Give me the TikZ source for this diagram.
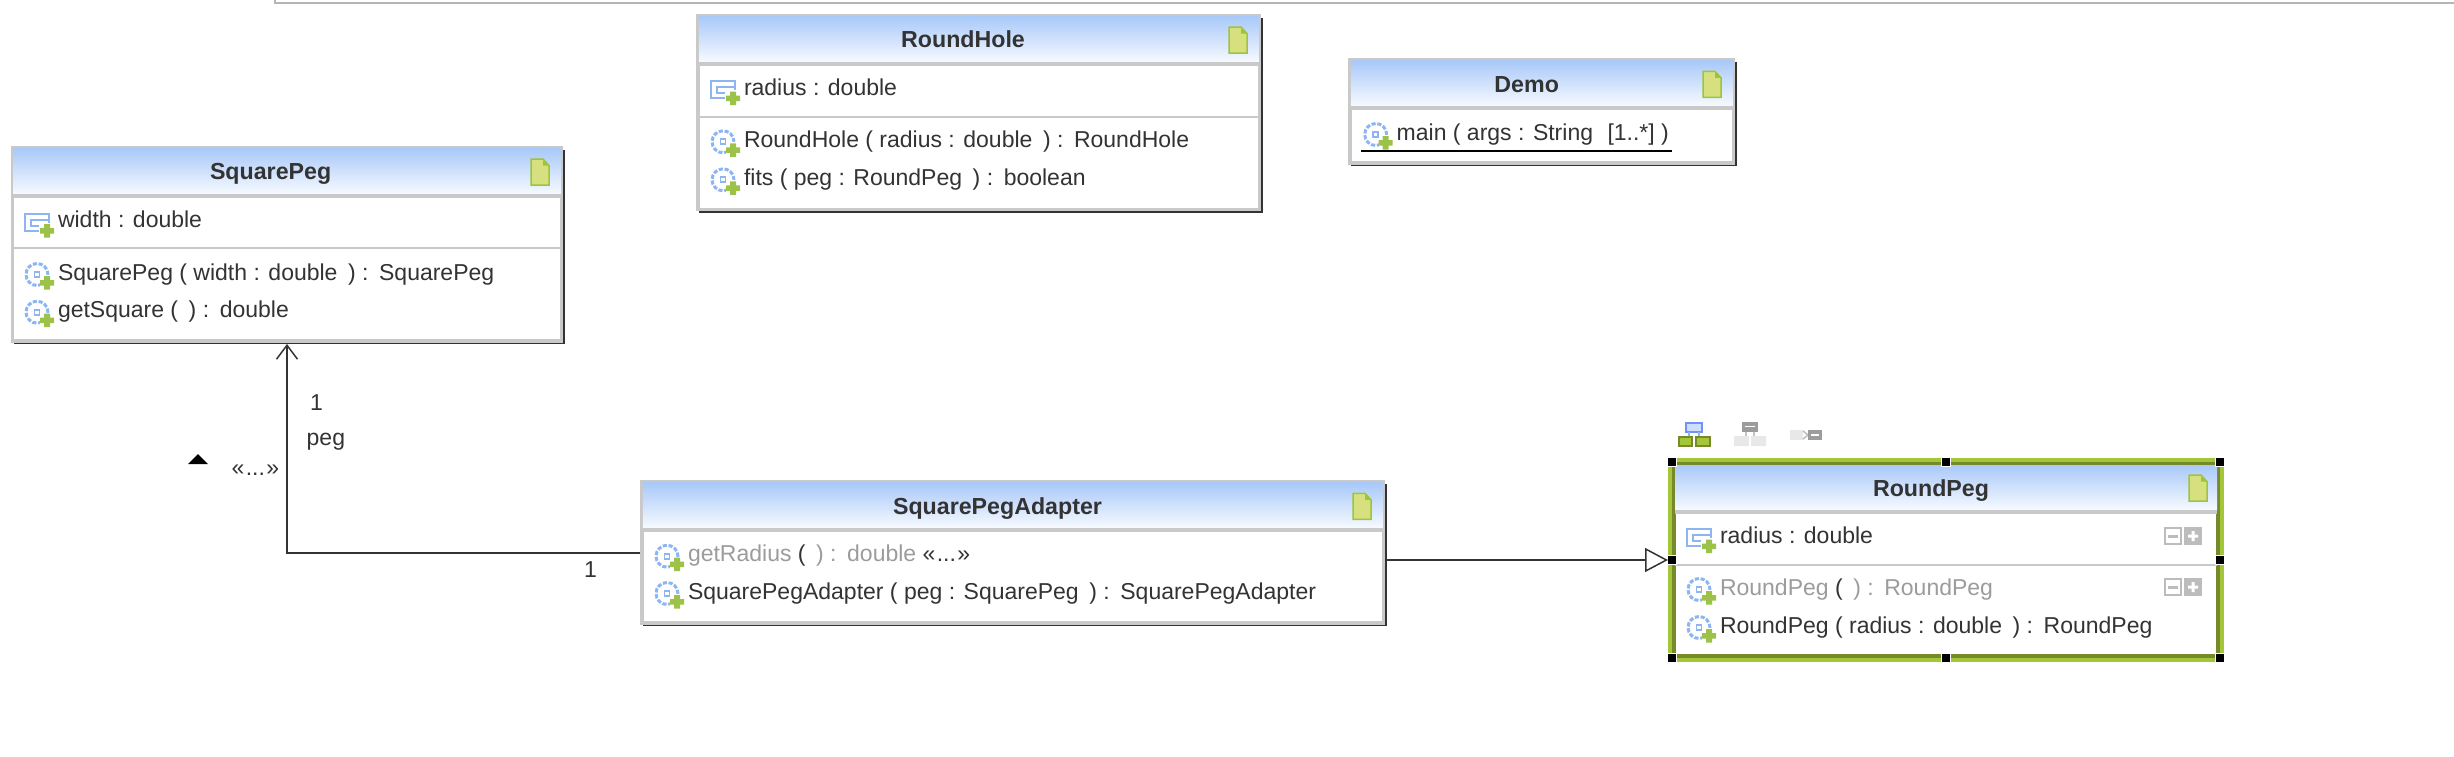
\documentclass[tikz,border=0pt]{standalone}
\usepackage{fontspec}
\setmainfont{Liberation Sans}
\usetikzlibrary{arrows.meta,calc}
\definecolor{ink}{HTML}{333333}
\definecolor{framegray}{HTML}{C9C9C9}
\definecolor{faded}{HTML}{9C9C9C}
\definecolor{iconblue}{HTML}{8DB5F2}
\definecolor{iconplus}{HTML}{9CC24A}
\definecolor{notefill}{HTML}{D6E07E}
\definecolor{noteline}{HTML}{9DC43F}
\definecolor{hdrtop}{HTML}{A9C9F9}
\definecolor{hdrbot}{HTML}{F7FAFF}
\definecolor{sellight}{HTML}{A4C639}
\definecolor{seldark}{HTML}{77892B}
\definecolor{topline}{HTML}{B5B5B5}
\definecolor{btn}{HTML}{BCBCBC}
\newcommand\dgap{\hspace{.46em}}
\newcommand\elide{«\hspace{.06em}...\hspace{.06em}»}
\tikzset{
  classbox/.style={draw=framegray,fill=white,line width=1.75pt,inner sep=0pt},
  selbox/.style={fill=white,inner sep=0pt,outer sep=0pt},
  memberline/.style={anchor=base west,inner sep=0pt,outer sep=0pt,text=ink,font=\fontsize{11.5}{14}\selectfont},
  titleline/.style={anchor=base,inner sep=0pt,outer sep=0pt,text=ink,font=\fontsize{11.6}{14}\selectfont\bfseries},
  assocline/.style={draw=ink,line width=.75pt},
  selhandle/.style={fill=black,draw=white,line width=.7pt,minimum size=4.7pt,inner sep=0pt},
  attricon/.pic={
    \fill[white] (0,0) rectangle (26,19);
    \draw[iconblue,line width=1.2pt] (1,1) rectangle (25,18);
    \draw[iconblue,line width=1pt] (7,7) rectangle (25,13);
    \fill[white] (15,10) rectangle (31,26);
    \fill[iconplus] (20,11.5) rectangle (26,25) (16,15.5) rectangle (30,21);
  },
  opicon/.pic={
    \draw[iconblue,line width=1.5pt,dash pattern=on 2.1pt off .85pt] (13,12.5) circle[radius=11];
    \draw[iconblue,line width=.9pt] (10.5,10) rectangle (15.5,15);
    \fill[white] (16,13) rectangle (31,28);
    \fill[iconplus] (20,14) rectangle (26,27.5) (16,18) rectangle (30,23.5);
  },
  noteicon/.pic={
    \draw[noteline,fill=notefill,line width=.75pt,line join=miter] (1,1) -- (13,1) -- (19,7.5) -- (19,27) -- (1,27) -- cycle;
    \fill[noteline] (13,2) -- (18,7.5) -- (13,7.5) -- cycle;
  },
  togglebtns/.pic={
    \draw[btn,fill=white,line width=1pt] (1,1) rectangle (17,17);
    \fill[btn] (4,7.5) rectangle (14,10.5);
    \fill[btn] (20,0) rectangle (38,18);
    \fill[white] (24,7.5) rectangle (34,10.5) (27.5,4) rectangle (30.5,14);
  },
}
\newcommand\classframe[8]{%
  \fill[ink] (#2+1,#3+2) rectangle (#4+3.4,#5+3.4);
  \node[classbox,minimum width={(#4-#2)*.5pt},minimum height={(#5-#3)*.5pt}] (#1) at ({(#2+#4)/2},{(#3+#5)/2}) {};
  \shade[top color=hdrtop,bottom color=hdrbot] (#2+.875,#3+.875) rectangle (#4-.875,#6);
  \draw[framegray,line width=2pt] (#2,#6+2) -- (#4,#6+2);
  \node[titleline] (#1title) at (#7,#3+32) {#8};
  \pic at (#4-31.5,#3+10.3) {noteicon};
}
\newcommand\attrrow[4]{%
  \pic at (#2-34,#3-15) {attricon};
  \node[memberline] (#1) at (#2,#3) {#4};
}
\newcommand\oprow[4]{%
  \pic at (#2-34,#3-18) {opicon};
  \node[memberline] (#1) at (#2,#3) {#4};
}
\newcommand\compline[3]{\draw[framegray,line width=1pt] (#1,#3) -- (#2,#3);}
\begin{document}
\begin{tikzpicture}[x=.5pt,y=-.5pt]
\useasboundingbox (0,0) rectangle (2454,756);
\fill[white] (0,0) rectangle (2454,756);
\coordinate (cornerA) at (275,3);
\coordinate (cornerB) at (2454,3);
\draw[topline,line width=1pt] (275,0) -- (cornerA) -- (cornerB);

% SquarePeg
\classframe{SquarePeg}{12.7}{147.7}{561.5}{341}{194}{270.6}{SquarePeg}
\compline{12.7}{561.5}{248.3}
\attrrow{spa}{58}{227.7}{width : double}
\oprow{spo}{58}{280}{SquarePeg ( width : double\dgap) :\dgap SquarePeg}
\oprow{spg}{58}{317.7}{getSquare (\dgap) :\dgap double}

% RoundHole
\classframe{RoundHole}{698}{15.7}{1259.5}{209.5}{62}{963}{RoundHole}
\compline{698}{1259.5}{116.7}
\attrrow{rha}{744}{95}{radius : double}
\oprow{rho}{744}{147.3}{RoundHole ( radius : double\dgap) :\dgap RoundHole}
\oprow{rhf}{744}{185.3}{fits ( peg : RoundPeg\dgap) :\dgap boolean}

% Demo
\classframe{Demo}{1350}{60}{1733.5}{163}{106}{1526.7}{Demo}
\oprow{dm}{1396.7}{140}{main ( args : String\hspace{.35em} [1..*] )}
\coordinate (ulA) at (1361,150.7);
\coordinate (ulB) at (1672,150.7);
\draw[black,line width=.8pt] (ulA) -- (ulB);

% SquarePegAdapter
\classframe{Adapter}{642}{482}{1383.5}{623}{528}{997.5}{SquarePegAdapter}
\oprow{ado}{688}{561.7}{\textcolor{faded}{getRadius} (\dgap\textcolor{faded}{) :\dgap double} \elide}
\oprow{adc}{688}{599}{SquarePegAdapter ( peg : SquarePeg\dgap) :\dgap SquarePegAdapter}

% RoundPeg (selected)
\node[selbox,minimum width=278pt,minimum height=102pt,anchor=north west] (RoundPeg) at (1668,458) {};
\draw[sellight,line width=2pt] (1670,460) rectangle (2222,660);
\draw[seldark,line width=2pt] (1674,464) rectangle (2218,656);
\shade[top color=hdrtop,bottom color=hdrbot] (1675,465) rectangle (2217,510);
\draw[framegray,line width=2pt] (1675,512) -- (2217,512);
\draw[framegray,line width=1pt] (1675,565) -- (2217,565);
\node[titleline] (RoundPegtitle) at (1931,496) {RoundPeg};
\pic at (2188,474) {noteicon};
\attrrow{rpa}{1720}{543}{radius : double}
\oprow{rpo}{1720}{595}{\textcolor{faded}{RoundPeg} (\dgap\textcolor{faded}{) :\dgap RoundPeg}}
\oprow{rpc}{1720}{633}{RoundPeg ( radius : double\dgap) :\dgap RoundPeg}
\pic at (2164,527) {togglebtns};
\pic at (2164,578) {togglebtns};
\foreach \hx/\hy/\hn in {1672/462/a,1946/462/b,2220/462/c,1672/560/d,2220/560/e,1672/658/f,1946/658/g,2220/658/h}
  \node[selhandle] (handle\hn) at (\hx,\hy) {};

% Toolbar icons
\draw[iconblue!80!blue,fill=iconblue!45!white,line width=.9pt] (1686,423) rectangle (1702,432);
\draw[iconblue,line width=.7pt] (1689,432) -- (1689,436) (1699,432) -- (1699,436);
\draw[seldark,fill=sellight,line width=1pt] (1678.5,437) rectangle (1692,445.5);
\draw[seldark,fill=sellight,line width=1pt] (1696,437) rectangle (1709.5,445.5);
\fill[faded] (1742,422) rectangle (1758,432);
\fill[white] (1745,425.5) rectangle (1755,427);
\draw[faded!60!white,line width=.7pt] (1746,432) -- (1746,436) (1754,432) -- (1754,436);
\fill[black!9] (1734,436) rectangle (1749,446) (1751,436) rectangle (1766,446);
\fill[black!9] (1790,430) rectangle (1803,440);
\draw[faded!70!white,line width=.7pt] (1803,431) -- (1808,435) -- (1803,439);
\fill[faded] (1808,430) rectangle (1822,440);
\fill[white] (1811,434) rectangle (1819,435.5);

% Connectors
\coordinate (bend) at (287,553);
\draw[assocline,-{Straight Barb[length=7pt,width=10.5pt]},shorten >=.6pt] (Adapter.west |- bend) -- (bend) -- (bend |- SquarePeg.south);
\draw[assocline,-{Triangle[open,length=11.5pt,width=12pt,fill=white]}] (Adapter.east |- RoundPeg.west) -- (RoundPeg.west);

% Association labels
\node[memberline] (multA) at (310,410) {1};
\node[memberline] (rolePeg) at (306.7,445.7) {peg};
\node[memberline] (stereo) at (231.7,475) {\elide};
\node[memberline] (multB) at (584,577.7) {1};
\fill[black] (188,464) -- (198,454) -- (208,464) -- cycle;
\end{tikzpicture}
\end{document}
